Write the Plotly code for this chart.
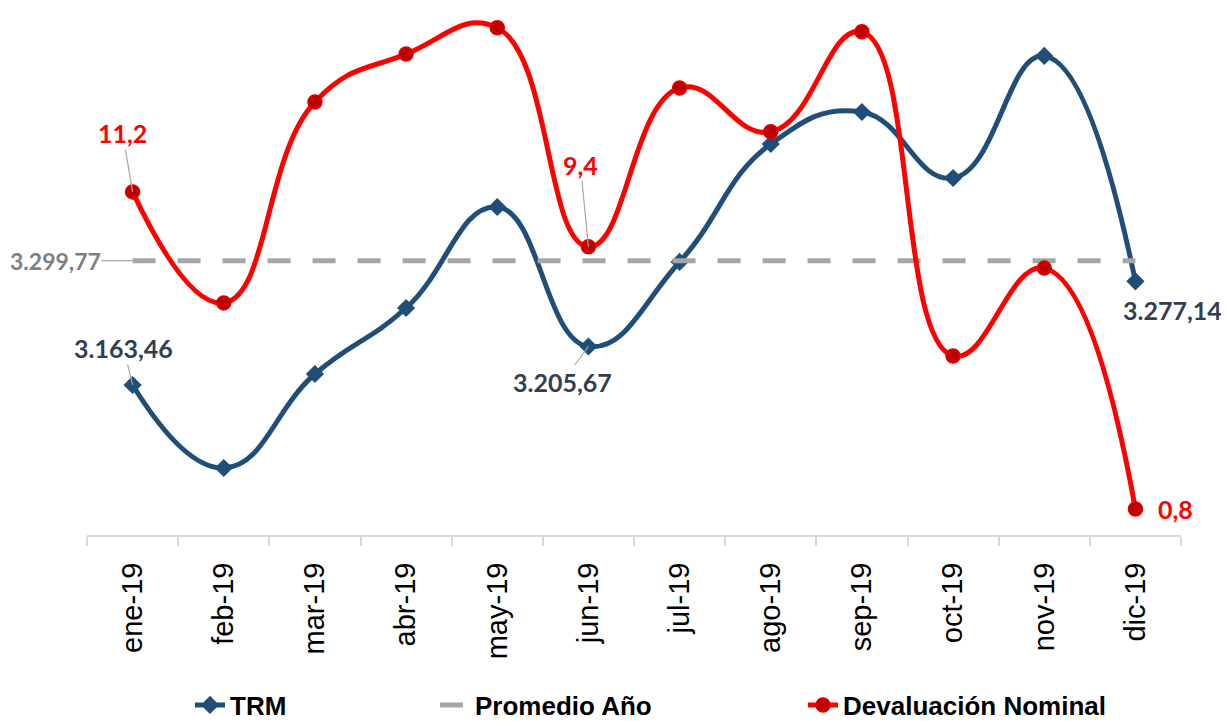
import plotly.graph_objects as go

months = ["ene-19", "feb-19", "mar-19", "abr-19", "may-19", "jun-19",
          "jul-19", "ago-19", "sep-19", "oct-19", "nov-19", "dic-19"]
trm = [3163.46, 3072.4, 3175.5, 3247.9, 3358.7, 3205.67,
       3298.4, 3427.8, 3462.9, 3390.5, 3524.4, 3277.14]
promedio = 3299.77
devaluacion = [11.2, 7.56, 14.15, 15.72, 16.58, 9.4,
               14.61, 13.17, 16.45, 5.82, 8.70, 0.8]

BLUE = "#1f4e79"
RED = "#ff0000"
DARKRED = "#c00000"
GRAY = "#a6a6a6"
LABEL_DARK = "#333f50"

fig = go.Figure()

fig.add_trace(go.Scatter(
    x=months, y=trm, name="<b>TRM</b>", mode="lines+markers",
    line=dict(color=BLUE, width=5, shape="spline", smoothing=1.3),
    marker=dict(symbol="diamond", size=14, color=BLUE),
    yaxis="y", legend="legend", showlegend=True))

fig.add_trace(go.Scatter(
    x=months, y=[promedio] * len(months), name="<b>Promedio Año</b>", mode="lines",
    line=dict(color=GRAY, width=5, dash="23px,22px"),
    yaxis="y", legend="legend2", showlegend=True))

fig.add_trace(go.Scatter(
    x=months, y=devaluacion, name="<b>Devaluación Nominal</b>", mode="lines+markers",
    line=dict(color=RED, width=5, shape="spline", smoothing=1.3),
    marker=dict(symbol="circle", size=14, color=DARKRED,
                line=dict(color="#e00000", width=1.5)),
    yaxis="y2", legend="legend3", showlegend=True))

def fmt_trm(v):
    s = f"{v:,.2f}"
    return s.replace(",", "X").replace(".", ",").replace("X", ".")

def fmt_dev(v):
    return f"{v:.1f}".replace(".", ",")

lab_font_trm = dict(family="Lato", size=25, color=LABEL_DARK, weight="bold")
lab_font_red = dict(family="Lato", size=25, color=RED, weight="bold")
lab_font_avg = dict(family="Lato", size=23, color="#7f7f7f", weight="bold")

ann = []
# red labels
ann.append(dict(x=months[0], y=devaluacion[0], yref="y2", xref="x",
                text=fmt_dev(devaluacion[0]), font=lab_font_red,
                showarrow=True, ax=-10, ay=-59, arrowhead=0, arrowwidth=1.2,
                arrowcolor=GRAY, standoff=0))
ann.append(dict(x=months[5], y=devaluacion[5], yref="y2", xref="x",
                text=fmt_dev(devaluacion[5]), font=lab_font_red,
                showarrow=True, ax=-8, ay=-82, arrowhead=0, arrowwidth=1.2,
                arrowcolor=GRAY, standoff=0))
ann.append(dict(x=months[11], y=devaluacion[11], yref="y2", xref="x",
                text=fmt_dev(devaluacion[11]), font=lab_font_red,
                showarrow=False, xshift=40, yshift=0))
# TRM labels
ann.append(dict(x=months[0], y=trm[0], yref="y", xref="x",
                text=fmt_trm(trm[0]), font=lab_font_trm,
                showarrow=True, ax=-9, ay=-37, arrowhead=0, arrowwidth=1.2,
                arrowcolor=GRAY, standoff=0))
ann.append(dict(x=months[5], y=trm[5], yref="y", xref="x",
                text=fmt_trm(trm[5]), font=lab_font_trm,
                showarrow=True, ax=-26, ay=35, arrowhead=0, arrowwidth=1.2,
                arrowcolor=GRAY, standoff=0))
ann.append(dict(x=months[11], y=trm[11], yref="y", xref="x",
                text=fmt_trm(trm[11]), font=lab_font_trm,
                showarrow=False, xshift=37, yshift=-29))
# average label
ann.append(dict(x=months[0], y=promedio, yref="y", xref="x",
                text=fmt_trm(promedio), font=lab_font_avg, borderpad=0,
                showarrow=True, ax=-77, ay=0, arrowhead=0, arrowwidth=1.2,
                arrowcolor=GRAY, standoff=0))

# page body has an 8px margin; figure offset compensated in margins
W, H = 1213, 713
L, R, T, B = 79, 40, 4, 186
plot_h = H - T - B
leg_y = (H - B - 697) / plot_h
plot_w = W - L - R

def leg(xpix):
    return dict(orientation="h", x=(xpix - L) / plot_w, y=leg_y, xanchor="left",
                yanchor="middle",
                font=dict(family="Liberation Sans", size=26, color="black"),
                bgcolor="rgba(0,0,0,0)")

fig.update_layout(
    width=W, height=H,
    paper_bgcolor="white", plot_bgcolor="white",
    margin=dict(l=L, r=R, t=T, b=B, autoexpand=False),
    showlegend=True,
    font=dict(family="Liberation Sans", color="black"),
    xaxis=dict(type="category", range=[-0.5, 11.5], showgrid=False, zeroline=False,
               showline=True, linecolor="#d9d9d9", linewidth=2,
               ticks="outside", tickson="boundaries", ticklen=9, tickcolor="#d9d9d9",
               tickwidth=2, tickangle=-90, ticklabelstandoff=14,
               tickfont=dict(family="Liberation Sans", size=29, color="black")),
    yaxis=dict(range=[2998.9, 3572.6], visible=False, showgrid=False, zeroline=False),
    yaxis2=dict(range=[-0.053, 17.10], visible=False, showgrid=False, zeroline=False,
                overlaying="y", side="right"),
    annotations=ann,
    legend=leg(182),
    legend2=leg(427),
    legend3=leg(795),
)

fig.write_html("out.html")
